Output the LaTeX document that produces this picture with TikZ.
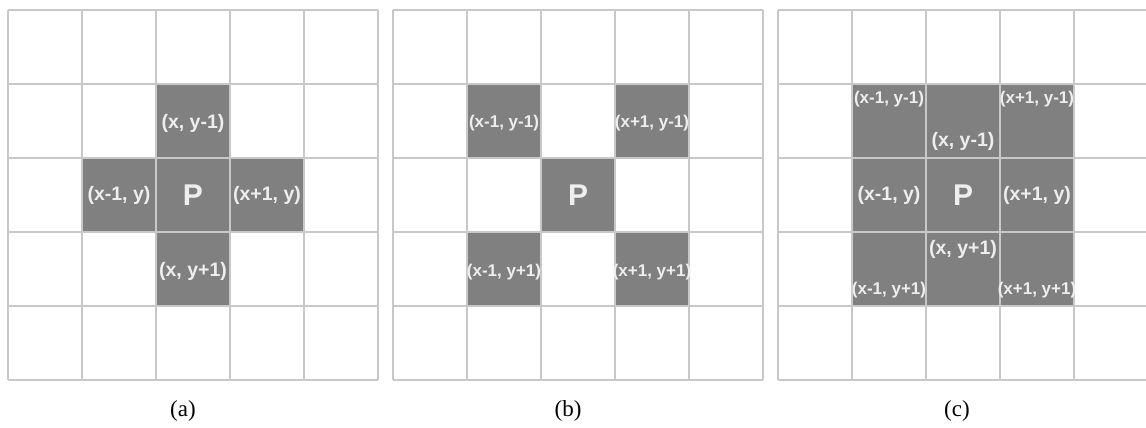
\documentclass[tikz,border=0pt]{standalone}
\usepackage{fontspec}
\newfontfamily\labelfont{Liberation Sans}
\newfontfamily\capfont{Liberation Serif}
\definecolor{cellgray}{RGB}{128,128,128}
\definecolor{gridgray}{RGB}{200,200,200}
\definecolor{labelwhite}{RGB}{238,238,238}
\tikzset{
  gridline/.style={draw=gridgray,line width=1.5pt},
  darkcell/.style={fill=cellgray},
  cell/.style={text=labelwhite,inner sep=0pt,font=\labelfont\bfseries\fontsize{19.5}{19.5}\selectfont},
  smallcell/.style={cell,font=\labelfont\bfseries\fontsize{17}{17}\selectfont},
  centre/.style={text=labelwhite,inner sep=0pt,font=\labelfont\bfseries\fontsize{30}{30}\selectfont},
  caption/.style={inner sep=0pt,font=\capfont\fontsize{23}{23}\selectfont}
}
\begin{document}
\begin{tikzpicture}[x=1pt,y=1pt]
  \useasboundingbox (0,0) rectangle (1146,428);
  \fill[white] (0,0) rectangle (1146,428);

  % (a) four neighbours
  \begin{scope}[shift={(8,48)},x=74pt,y=74pt]
    \foreach \c/\r in {2/3,1/2,2/2,3/2,2/1}
      \fill[darkcell] (\c,\r) rectangle ++(1,1);
    \draw[gridline] (0,0) grid[step=74pt] (5,5);
    \node[centre] (pa) at (2.5,2.5) {P};
    \foreach \n/\x/\y/\t in {
      aN/2.5/3.47/{(x, y-1)},
      aW/1.5/2.5/{(x-1, y)},
      aE/3.5/2.5/{(x+1, y)},
      aS/2.5/1.46/{(x, y+1)}}
    {
      \node[cell] (\n) at (\x,\y) {\t};
    }
  \end{scope}

  % (b) diagonal neighbours
  \begin{scope}[shift={(393,48)},x=74pt,y=74pt]
    \foreach \c/\r in {1/3,3/3,2/2,1/1,3/1}
      \fill[darkcell] (\c,\r) rectangle ++(1,1);
    \draw[gridline] (0,0) grid[step=74pt] (5,5);
    \node[centre] (pb) at (2.5,2.5) {P};
    \foreach \n/\x/\y/\t in {
      bNW/1.5/3.47/{(x-1, y-1)},
      bNE/3.5/3.47/{(x+1, y-1)},
      bSW/1.5/1.46/{(x-1, y+1)},
      bSE/3.5/1.46/{(x+1, y+1)}}
    {
      \node[smallcell] (\n) at (\x,\y) {\t};
    }
  \end{scope}

  % (c) eight neighbours
  \begin{scope}[shift={(778,48)},x=74pt,y=74pt]
    \fill[darkcell] (1,1) rectangle (4,4);
    \draw[gridline] (0,0) grid[step=74pt] (5,5);
    \node[centre] (pc) at (2.5,2.5) {P};
    \foreach \n/\x/\y/\t in {
      cN/2.5/3.22/{(x, y-1)},
      cW/1.5/2.5/{(x-1, y)},
      cE/3.5/2.5/{(x+1, y)},
      cS/2.5/1.77/{(x, y+1)}}
    {
      \node[cell] (\n) at (\x,\y) {\t};
    }
    \foreach \n/\x/\y/\t in {
      cNW/1.5/3.79/{(x-1, y-1)},
      cNE/3.5/3.79/{(x+1, y-1)},
      cSW/1.5/1.22/{(x-1, y+1)},
      cSE/3.5/1.22/{(x+1, y+1)}}
    {
      \node[smallcell] (\n) at (\x,\y) {\t};
    }
  \end{scope}

  \node[caption] (capa) at (183,17) {(a)};
  \node[caption] (capb) at (568,17) {(b)};
  \node[caption] (capc) at (957,17) {(c)};
\end{tikzpicture}
\end{document}
